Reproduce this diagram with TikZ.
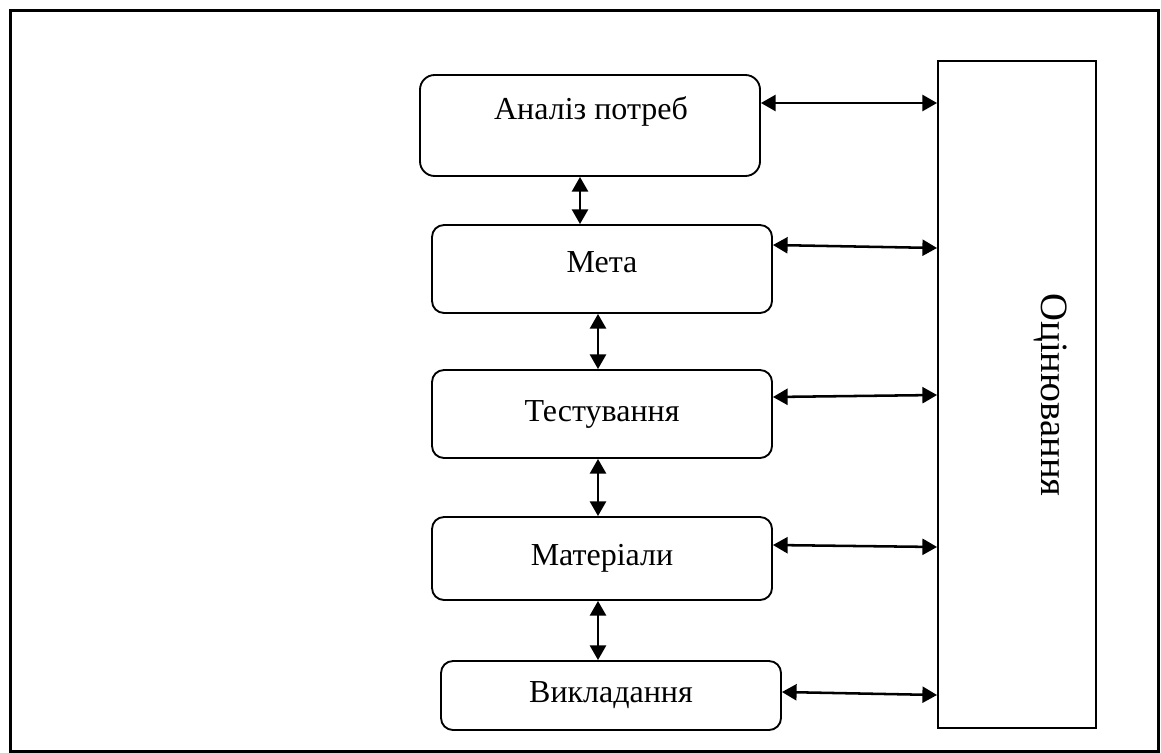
\documentclass[tikz,border=0pt]{standalone}
\usepackage{fontspec}
\setmainfont{Liberation Serif}
\usetikzlibrary{arrows.meta,calc}
\begin{document}
\begin{tikzpicture}[x=0.75pt,y=-0.75pt,
  every node/.style={font=\fontsize{24}{29}\selectfont},
  box/.style={draw, line width=1.4pt, rounded corners=9pt, inner sep=0pt, minimum width=255pt},
  side/.style={draw, line width=1.4pt, inner sep=0pt},
  tip/.tip={Triangle[length=11pt,width=12pt]},
  dbl/.style={tip-tip, line width=1.9pt}]
\useasboundingbox (0,0) rectangle (1161,753);
\draw[line width=2.25pt] (10,10) rectangle (1158,751);
% boxes
\node[box, rounded corners=11pt, minimum height=75.75pt] (a) at (590,125.5) {};
\node (al) at (591,111) {Аналіз потреб};
\node[box, minimum height=66pt] (m) at (602,269) {};
\node (ml) at (602,262) {Мета};
\node[box, minimum height=66pt] (t) at (602,414) {Тестування};
\node[box, minimum height=62.25pt] (mt) at (602,558.5) {Матеріали};
\node[box, minimum height=51.75pt] (v) at (611,695.5) {Викладання};
\node[side, minimum width=118.5pt, minimum height=500.25pt] (o) at (1017,394.5) {};
\node[rotate=-90, font=\fontsize{29}{34}\selectfont] (ol) at (1051,395) {Оцінювання};
% horizontal arrows
\draw[dbl] (a.east |- 0,103) -- (o.west |- 0,103);
\draw[dbl] (m.east |- 0,245) -- (o.west |- 0,248);
\draw[dbl] (t.east |- 0,397) -- (o.west |- 0,395);
\draw[dbl] (mt.east |- 0,545) -- (o.west |- 0,547);
\draw[dbl] (v.east |- 0,692) -- (o.west |- 0,695);
% vertical arrows
\draw[dbl] (a.south -| 580,0) -- (m.north -| 580,0);
\draw[dbl] (m.south -| 598,0) -- (t.north -| 598,0);
\draw[dbl] (t.south -| 598,0) -- (mt.north -| 598,0);
\draw[dbl] (mt.south -| 598,0) -- (v.north -| 598,0);
\end{tikzpicture}
\end{document}
